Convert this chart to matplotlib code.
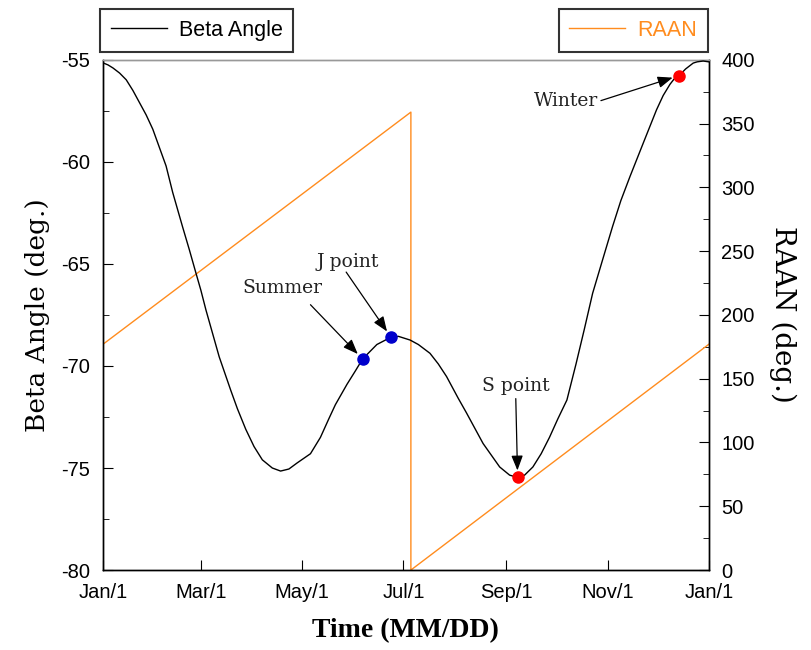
import numpy as np
import matplotlib
matplotlib.use('Agg')
import matplotlib.pyplot as plt
from matplotlib.ticker import MultipleLocator

# day of year vs beta angle
beta_day = [0, 3, 6, 10, 14, 18, 22, 26, 30, 34, 38, 42, 48, 52, 56, 59, 62, 66, 70,
            77, 81, 86, 91, 96, 102, 107, 112, 117, 125, 131, 136, 140, 147, 152, 156.4,
            165, 173.5, 178, 185, 190, 197, 202, 207, 214, 219, 229, 239, 245, 249.8,
            254, 259, 264, 269, 274, 279.5, 285, 290, 295, 301, 307, 312, 317.5, 325.5,
            333.5, 337.5, 341.6, 344, 347.2, 351, 355.6, 358, 361.6, 365]
beta_val = [-55.15, -55.25, -55.4, -55.65, -55.98, -56.5, -57.1, -57.7, -58.4, -59.3,
            -60.2, -61.5, -63.2, -64.3, -65.45, -66.3, -67.25, -68.4, -69.55, -71.2,
            -72.1, -73.1, -73.95, -74.6, -75.0, -75.15, -75.05, -74.75, -74.3, -73.5,
            -72.6, -71.9, -70.9, -70.25, -69.66, -68.95, -68.59, -68.55, -68.73, -68.95,
            -69.38, -69.9, -70.52, -71.58, -72.3, -73.8, -74.95, -75.35, -75.46, -75.35,
            -74.95, -74.3, -73.5, -72.6, -71.67, -69.9, -68.2, -66.44, -64.8, -63.17,
            -61.9, -60.72, -59.08, -57.45, -56.75, -56.2, -55.95, -55.77, -55.45, -55.16,
            -55.1, -55.06, -55.1]

# RAAN (deg.)
raan_day = [0, 185.5, 185.5, 365]
raan_val = [177, 359, 0, 177]

# marked points
pt_names = ['Summer', 'J point', 'S point', 'Winter']
pt_day = [156.4, 173.5, 249.8, 347.2]
pt_val = [-69.66, -68.59, -75.46, -55.77]
pt_color = ['#0000CC', '#0000CC', '#FF0000', '#FF0000']
# label positions (day, beta)
txt_pos = [(108, -66.2), (147.5, -64.9), (249, -71.0), (279, -57.0)]
arr_from = [(125, -67.0), (146.5, -65.4), (248.7, -71.6), (300, -57.0)]

tick_days = [0, 59, 120, 181, 243, 304, 365]
tick_labels = ['Jan/1', 'Mar/1', 'May/1', 'Jul/1', 'Sep/1', 'Nov/1', 'Jan/1']

orange = '#FF8C1E'
sans = ['Liberation Sans', 'DejaVu Sans']
serif = ['DejaVu Serif']
tserif = ['Liberation Serif', 'DejaVu Serif']

plt.rcParams['font.family'] = sans
plt.rcParams['axes.unicode_minus'] = False

fig = plt.figure(figsize=(8.11, 6.5), dpi=100)
ax = fig.add_axes([0.127, 0.123, 0.747, 0.785])
ax2 = ax.twinx()

l1, = ax.plot(beta_day, beta_val, color='black', lw=1.0, zorder=3)
l2, = ax2.plot(raan_day, raan_val, color=orange, lw=1.0)
ax.set_zorder(ax2.get_zorder() + 1)
ax.patch.set_visible(False)

for i in range(len(pt_names)):
    ax.plot(pt_day[i], pt_val[i], 'o', color=pt_color[i], ms=8, zorder=5)
    ax.annotate('', xy=(pt_day[i], pt_val[i]), xytext=arr_from[i],
                arrowprops=dict(arrowstyle='-|>,head_length=0.9,head_width=0.35',
                                color='black', lw=0.9, shrinkA=0, shrinkB=5))
    ax.text(txt_pos[i][0], txt_pos[i][1], pt_names[i], family=serif, fontsize=13.5,
            color='#222222', ha='center', va='center')

ax.set_xlim(0, 365)
ax.set_ylim(-80, -55)
ax2.set_ylim(0, 400)
ax.set_xticks(tick_days)
ax.set_xticklabels(tick_labels)
ax.yaxis.set_major_locator(MultipleLocator(5))
ax.yaxis.set_minor_locator(MultipleLocator(2.5))
ax2.yaxis.set_major_locator(MultipleLocator(50))
ax2.yaxis.set_minor_locator(MultipleLocator(25))

ax.tick_params(axis='both', which='major', direction='in', length=7, labelsize=14.5, pad=9)
ax.tick_params(axis='y', which='minor', direction='in', length=4)
ax2.tick_params(axis='y', which='major', direction='in', length=7, labelsize=14.5, pad=9)
ax2.tick_params(axis='y', which='minor', direction='in', length=4)

for a in (ax, ax2):
    for s in a.spines.values():
        s.set_linewidth(1.0)
ax.spines['top'].set_color('#999999')
ax2.spines['top'].set_color('#999999')

ax.set_xlabel('Time (MM/DD)', family=tserif, fontsize=20, fontweight='bold', labelpad=12)
ax.set_ylabel('Beta Angle (deg.)', family=serif, fontsize=19, labelpad=8)
ax2.set_ylabel('RAAN (deg.)', family=serif, fontsize=20, rotation=270, labelpad=30)

leg1 = ax.legend([l1], ['Beta Angle'], loc='lower left', bbox_to_anchor=(-0.005, 1.016),
                 frameon=True, fancybox=False, edgecolor='black', fontsize=15.5,
                 handlelength=2.6, handletextpad=0.55, borderpad=0.5, borderaxespad=0)
leg1.get_frame().set_linewidth(1.5)
leg2 = ax2.legend([l2], ['RAAN'], loc='lower right', bbox_to_anchor=(0.998, 1.016),
                  frameon=True, fancybox=False, edgecolor='black', fontsize=15.5,
                  handlelength=2.6, handletextpad=0.55, borderpad=0.5, borderaxespad=0,
                  labelcolor=orange)
leg2.get_frame().set_linewidth(1.5)

fig.savefig('out.png', dpi=100)
